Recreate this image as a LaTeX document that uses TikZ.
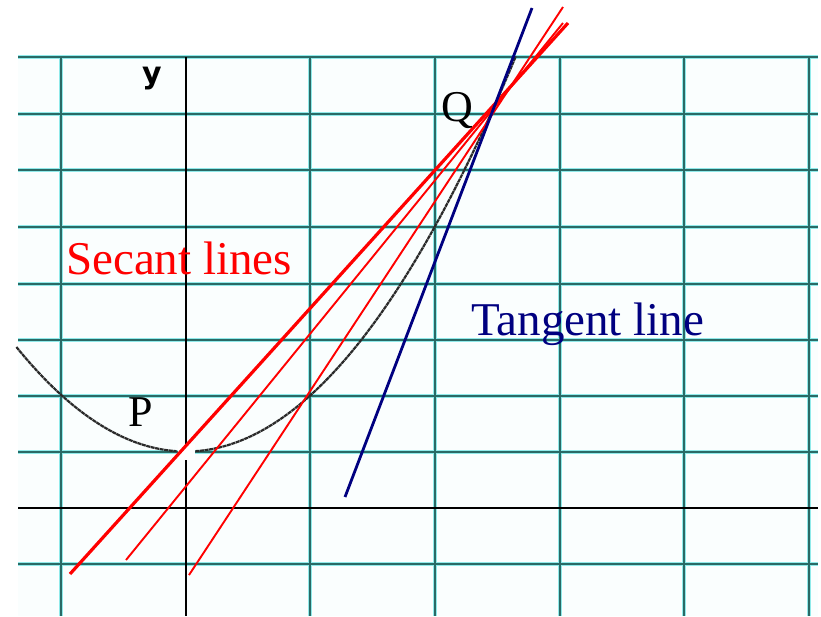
\documentclass[tikz,border=0pt]{standalone}
\usepackage{fontspec}
\setmainfont{Liberation Serif}
\newfontfamily\ylabfont{DejaVu Sans}
\definecolor{gridcore}{HTML}{2A6A66}
\definecolor{gridhalo}{HTML}{8FEAEA}
\definecolor{curvegray}{HTML}{2A2A2A}
\definecolor{navyline}{HTML}{000080}
\begin{document}
\begin{tikzpicture}[x=1pt,y=-1pt,
  halo/.style={gridhalo,line width=4.2pt},
  core/.style={gridcore,line width=2pt},
  axisline/.style={black,line width=2.2pt},
  secthick/.style={red,line width=3.2pt},
  secthin/.style={red,line width=1.9pt},
  tangentln/.style={navyline,line width=2.8pt},
  curvestyle/.style={curvegray,line width=2.2pt,dash pattern=on 4pt off 0.6pt},
  bigtext/.style={font=\fontsize{47}{50}\selectfont,inner sep=0pt},
  ptlabel/.style={font=\fontsize{44}{46}\selectfont,inner sep=0pt,anchor=base}]
\useasboundingbox (0,0) rectangle (821,616);
\fill[white] (0,0) rectangle (821,616);
\fill[gridhalo!4] (18,57) rectangle (818,616);
% grid halos
\foreach \yy in {57,114,170,227,284,340,396,452,564}
  \draw[halo] (18,\yy) -- (818,\yy);
\foreach \xx in {61,310,435,560,684,809}
  \draw[halo] (\xx,57) -- (\xx,616);
% grid cores
\foreach \yy in {57,114,170,227,284,340,396,452,564}
  \draw[core] (18,\yy) -- (818,\yy);
\foreach \xx in {61,310,435,560,684,809}
  \draw[core] (\xx,57) -- (\xx,616);
% axes
\draw[axisline] (18,508) -- (818,508);
\draw[axisline] (186,57) -- (186,616);
% gap near vertex
\fill[white] (178,444) rectangle (195,460);
% parabola y = x^2 + 1
\draw[curvestyle] plot[domain=-1.36:-0.075,samples=80]
  ({186+124.7*\x},{508-56.5*(\x*\x+1)});
\draw[curvestyle] plot[domain=0.075:2.645,samples=120]
  ({186+124.7*\x},{508-56.5*(\x*\x+1)});
% line end points
\coordinate (s1a) at (70,574);
\coordinate (s1b) at (568,23);
\coordinate (s2a) at (126,560);
\coordinate (s2b) at (563,23);
\coordinate (s3a) at (189,575);
\coordinate (s3b) at (563,7);
\coordinate (ta) at (345,497);
\coordinate (tb) at (532,8);
\draw[secthick] (s1a) -- (s1b);
\draw[secthin] (s2a) -- (s2b);
\draw[secthin] (s3a) -- (s3b);
\draw[tangentln] (ta) -- (tb);
% labels
\node[font=\ylabfont\bfseries\fontsize{30}{32}\selectfont,inner sep=0pt,anchor=base] (ylab) at (152,83) {y};
\node[ptlabel] (Qlab) at (457,121) {Q};
\node[ptlabel] (Plab) at (141,426) {P};
\node[bigtext,red,anchor=base west] (seclab) at (66,274) {Secant lines};
\node[bigtext,text=navyline,anchor=base west] (tanlab) at (471,335) {Tangent line};
\end{tikzpicture}
\end{document}
